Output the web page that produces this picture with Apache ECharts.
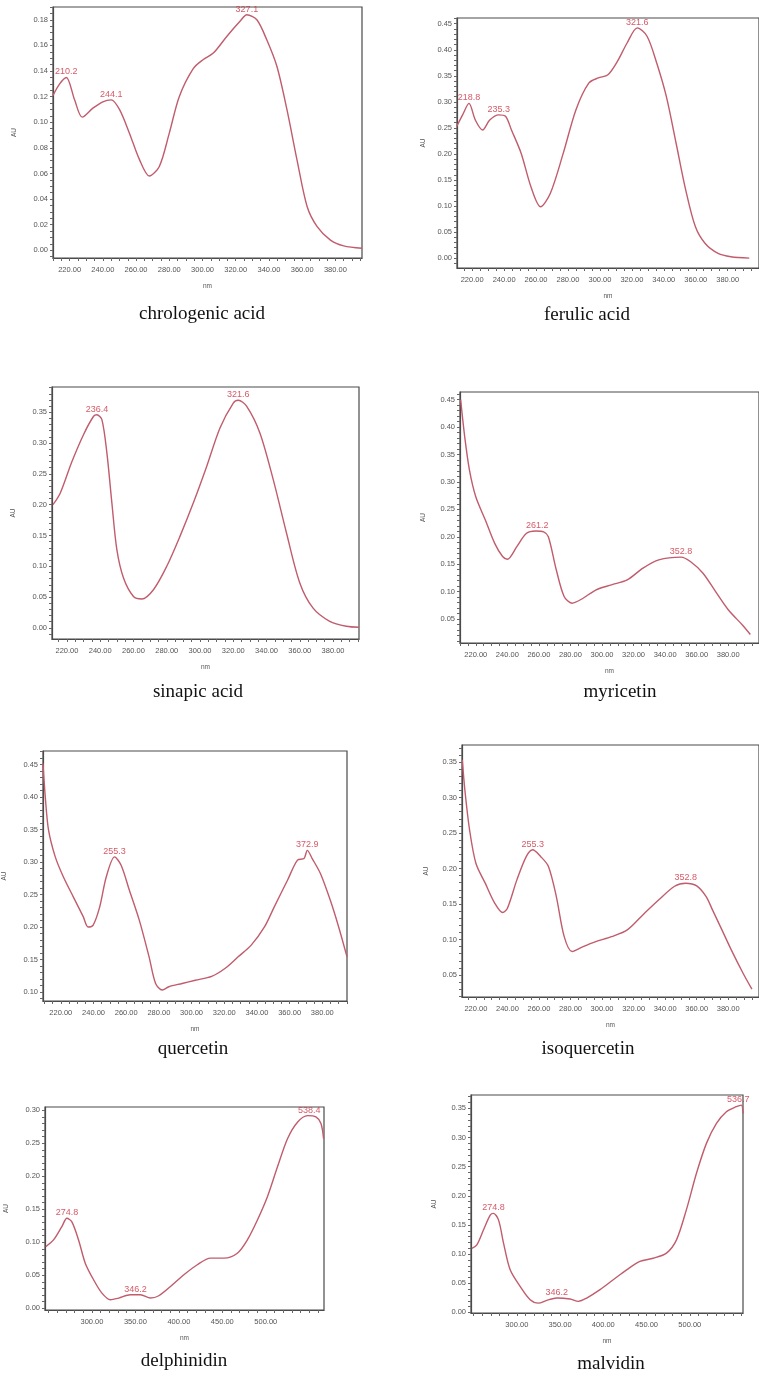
<!DOCTYPE html>
<html>
<head>
<meta charset="utf-8">
<script src="https://cdn.jsdelivr.net/npm/echarts@6/dist/echarts.min.js"></script>
<style>
html,body{margin:0;padding:0;background:#fff;}
#chart{width:759px;height:1377px;}
</style>
</head>
<body>
<div id="chart"></div>
<script>
// ---------- tick labels ----------
const xTicksUV = [220, 240, 260, 280, 300, 320, 340, 360, 380];
const xTicksVis = [300, 350, 400, 450, 500];
const yTicks_chlorogenic = [0.00, 0.02, 0.04, 0.06, 0.08, 0.10, 0.12, 0.14, 0.16, 0.18];
const yTicks_ferulic = [0.00, 0.05, 0.10, 0.15, 0.20, 0.25, 0.30, 0.35, 0.40, 0.45];
const yTicks_sinapic = [0.00, 0.05, 0.10, 0.15, 0.20, 0.25, 0.30, 0.35];
const yTicks_myricetin = [0.05, 0.10, 0.15, 0.20, 0.25, 0.30, 0.35, 0.40, 0.45];
const yTicks_quercetin = [0.10, 0.15, 0.20, 0.25, 0.30, 0.35, 0.40, 0.45];
const yTicks_isoquercetin = [0.05, 0.10, 0.15, 0.20, 0.25, 0.30, 0.35];
const yTicks_delphinidin = [0.00, 0.05, 0.10, 0.15, 0.20, 0.25, 0.30];
const yTicks_malvidin = [0.00, 0.05, 0.10, 0.15, 0.20, 0.25, 0.30, 0.35];

// ---------- spectra (wavelength nm, absorbance AU) ----------
const nm_chlorogenic = [210, 214, 218, 223, 227.6, 234, 240, 245, 250, 256, 262, 268, 274, 280, 286, 294.5, 300.5, 306.5, 314.6, 322.7, 326.7, 332.7, 338.8, 344.8, 350.8, 356.9, 363, 369, 377, 385, 396];
const au_chlorogenic = [0.121, 0.130, 0.135, 0.1175, 0.104, 0.111, 0.116, 0.1175, 0.110, 0.0915, 0.071, 0.058, 0.0655, 0.0915, 0.120, 0.142, 0.149, 0.154, 0.167, 0.179, 0.184, 0.180, 0.164, 0.1435, 0.110, 0.0705, 0.034, 0.0185, 0.008, 0.0035, 0.0016];
const peaks_chlorogenic = [[218, 0.135, '210.2'], [245, 0.1175, '244.1'], [326.7, 0.184, '327.1']];

const nm_ferulic = [210.3, 214, 218, 222, 226.5, 231, 236.6, 241, 244.6, 250.7, 256.8, 262.8, 268.9, 277, 285, 293, 299, 305, 311, 317, 323.4, 329.5, 335.6, 341.6, 347.7, 353.7, 359.8, 365.9, 374, 382, 393.5];
const au_ferulic = [0.2526, 0.275, 0.297, 0.265, 0.246, 0.265, 0.275, 0.272, 0.246, 0.201, 0.137, 0.0987, 0.124, 0.201, 0.285, 0.336, 0.346, 0.352, 0.378, 0.413, 0.442, 0.426, 0.374, 0.310, 0.2205, 0.131, 0.060, 0.028, 0.009, 0.0026, 0.0];
const peaks_ferulic = [[218, 0.297, '218.8'], [236.6, 0.275, '235.3'], [323.4, 0.442, '321.6']];

const nm_sinapic = [211.6, 216, 223, 230, 236, 238, 241, 244, 247, 250, 254, 260, 265, 272, 280, 288, 296, 304, 312, 320, 323, 328, 336, 344, 352, 360, 368, 378, 388, 395.6];
const au_sinapic = [0.200, 0.219, 0.270, 0.314, 0.3435, 0.346, 0.338, 0.284, 0.203, 0.127, 0.081, 0.051, 0.047, 0.062, 0.100, 0.149, 0.203, 0.262, 0.3245, 0.365, 0.3695, 0.360, 0.3165, 0.241, 0.154, 0.073, 0.032, 0.0107, 0.0026, 0.001];
const peaks_sinapic = [[238, 0.346, '236.4'], [323, 0.3695, '321.6']];

const nm_myricetin = [210.4, 213, 216, 220, 226, 232, 237, 240, 246, 252, 258, 263, 266, 271, 276, 281, 288, 296, 306, 316, 326, 336, 350, 356, 364, 372, 380, 389.4, 394];
const au_myricetin = [0.45, 0.382, 0.3215, 0.273, 0.231, 0.188, 0.164, 0.159, 0.182, 0.206, 0.2106, 0.209, 0.200, 0.140, 0.0912, 0.079, 0.088, 0.103, 0.1124, 0.1215, 0.143, 0.158, 0.163, 0.155, 0.1336, 0.100, 0.067, 0.038, 0.022];
const peaks_myricetin = [[259, 0.2106, '261.2'], [350, 0.163, '352.8']];

const nm_quercetin = [209.1, 210.5, 212.5, 216.6, 221.6, 227.7, 233.7, 236.7, 239.8, 243.8, 247.8, 252.9, 256.9, 261.9, 268, 274, 278, 282.1, 286.1, 294.2, 302.3, 312.3, 320.4, 328.5, 336.5, 344.6, 350.6, 358.7, 364.8, 368.8, 370.8, 373.8, 378.9, 384.9, 390, 395.1];
const au_quercetin = [0.4515, 0.400, 0.349, 0.308, 0.277, 0.246, 0.216, 0.200, 0.203, 0.231, 0.277, 0.308, 0.295, 0.257, 0.2105, 0.154, 0.113, 0.103, 0.108, 0.113, 0.118, 0.124, 0.136, 0.154, 0.172, 0.200, 0.231, 0.272, 0.303, 0.3054, 0.318, 0.3054, 0.282, 0.241, 0.200, 0.154];
const peaks_quercetin = [[252.9, 0.308, '255.3'], [370.8, 0.318, '372.9']];

const nm_isoquercetin = [211.4, 213, 216, 220, 226, 232, 237, 240, 246, 252, 256, 261, 266, 271, 276, 281, 288, 296, 306, 316, 326, 336, 346, 353, 360, 366, 370, 376, 382, 389.4, 395];
const au_isoquercetin = [0.353, 0.311, 0.2545, 0.2075, 0.179, 0.151, 0.138, 0.144, 0.184, 0.217, 0.2264, 0.217, 0.203, 0.1605, 0.104, 0.083, 0.090, 0.097, 0.104, 0.1135, 0.135, 0.156, 0.175, 0.1793, 0.1756, 0.1605, 0.1417, 0.1135, 0.085, 0.0524, 0.030];
const peaks_isoquercetin = [[256, 0.2264, '255.3'], [353, 0.1793, '352.8']];

const nm_delphinidin = [246.9, 255.8, 265.4, 271.2, 276.9, 284.6, 292.3, 301.9, 311.5, 321.2, 330.8, 344.2, 355.8, 367.3, 376.9, 390.4, 405.8, 421.2, 436.5, 451.9, 467.3, 478.8, 490.4, 501.9, 513.5, 525, 536.5, 548.1, 557.7, 563.5, 566.5];
const au_delphinidin = [0.0935, 0.1036, 0.1238, 0.1364, 0.131, 0.1036, 0.0684, 0.0432, 0.023, 0.013, 0.0155, 0.0205, 0.0205, 0.0155, 0.019, 0.033, 0.0508, 0.066, 0.076, 0.076, 0.0835, 0.1036, 0.1338, 0.169, 0.2144, 0.257, 0.282, 0.292, 0.290, 0.280, 0.257];
const peaks_delphinidin = [[271.2, 0.1364, '274.8'], [350, 0.0205, '346.2'], [550, 0.292, '538.4']];

const nm_malvidin = [248, 253.8, 261.5, 269.2, 273, 278.8, 284.6, 292.3, 303.8, 315.4, 325, 334.6, 346.2, 361.5, 371.2, 380.8, 396.2, 411.5, 426.9, 442.3, 457.7, 473, 484.6, 496, 507.7, 519.2, 530.8, 542.3, 553.8, 559.6, 561.5];
const au_malvidin = [0.110, 0.116, 0.1417, 0.167, 0.170, 0.1588, 0.119, 0.073, 0.0446, 0.0218, 0.016, 0.0207, 0.0247, 0.023, 0.019, 0.0247, 0.039, 0.056, 0.073, 0.0874, 0.093, 0.1017, 0.1245, 0.176, 0.2387, 0.290, 0.3243, 0.3443, 0.3529, 0.3557, 0.3414];
const peaks_malvidin = [[273, 0.170, '274.8'], [346.2, 0.0247, '346.2'], [556, 0.355, '536.7']];

// ---------- layout ----------
const panels = [
  {title: 'chrologenic acid', nm: nm_chlorogenic, au: au_chlorogenic, peaks: peaks_chlorogenic, xTicks: xTicksUV, yTicks: yTicks_chlorogenic,
   x: [210, 396], y: [-0.006, 0.19], box: [53, 7, 309, 251], xMinor: 5, yMinor: 0.005, t: [202, 314], nameGapY: 35},
  {title: 'ferulic acid', nm: nm_ferulic, au: au_ferulic, peaks: peaks_ferulic, xTicks: xTicksUV, yTicks: yTicks_ferulic,
   x: [210.5, 399.6], y: [-0.019, 0.461], box: [457, 18, 312, 250], xMinor: 5, yMinor: 0.01, t: [587, 315], nameGapY: 30},
  {title: 'sinapic acid', nm: nm_sinapic, au: au_sinapic, peaks: peaks_sinapic, xTicks: xTicksUV, yTicks: yTicks_sinapic,
   x: [211, 395.6], y: [-0.018, 0.391], box: [52, 387, 307, 252], xMinor: 5, yMinor: 0.01, t: [198, 692], nameGapY: 35},
  {title: 'myricetin', nm: nm_myricetin, au: au_myricetin, peaks: peaks_myricetin, xTicks: xTicksUV, yTicks: yTicks_myricetin,
   x: [210, 399.5], y: [0.0064, 0.464], box: [460, 392, 316, 251], xMinor: 5, yMinor: 0.01, t: [620, 692], nameGapY: 33},
  {title: 'quercetin', nm: nm_quercetin, au: au_quercetin, peaks: peaks_quercetin, xTicks: xTicksUV, yTicks: yTicks_quercetin,
   x: [209.1, 395.1], y: [0.086, 0.471], box: [39, 751, 308, 250], xMinor: 5, yMinor: 0.01, t: [193, 1049], nameGapY: 35},
  {title: 'isoquercetin', nm: nm_isoquercetin, au: au_isoquercetin, peaks: peaks_isoquercetin, xTicks: xTicksUV, yTicks: yTicks_isoquercetin,
   x: [211.2, 399.5], y: [0.019, 0.374], box: [462, 745, 314, 252], xMinor: 5, yMinor: 0.01, t: [588, 1049], nameGapY: 32},
  {title: 'delphinidin', nm: nm_delphinidin, au: au_delphinidin, peaks: peaks_delphinidin, xTicks: xTicksVis, yTicks: yTicks_delphinidin,
   x: [246, 567], y: [-0.0026, 0.305], box: [45, 1107, 279, 203], xMinor: 10, yMinor: 0.01, t: [184, 1361], nameGapY: 35},
  {title: 'malvidin', nm: nm_malvidin, au: au_malvidin, peaks: peaks_malvidin, xTicks: xTicksVis, yTicks: yTicks_malvidin,
   x: [247, 561.5], y: [-0.001, 0.373], box: [471, 1095, 272, 218], xMinor: 10, yMinor: 0.01, t: [611, 1364], nameGapY: 33}
];

function steps(a, b, s) {
  const out = [];
  const start = Math.ceil(a / s - 1e-9);
  const end = Math.floor(b / s + 1e-9);
  for (let k = start; k <= end; k++) out.push(+(k * s).toFixed(4));
  return out;
}

const LINE = '#c05c6c';
const RED = '#cc3040';
const AXIS = '#4a4a4a';

const grids = [], xAxes = [], yAxes = [], series = [], graphics = [];
panels.forEach((p, i) => {
  grids.push({left: p.box[0], top: p.box[1], width: p.box[2], height: p.box[3], show: true,
    borderColor: AXIS, borderWidth: 1.2, backgroundColor: '#fff', containLabel: false});
  xAxes.push({type: 'value', gridIndex: i, min: p.x[0], max: p.x[1],
    axisLine: {show: true, onZero: false, lineStyle: {color: AXIS, width: 1.2}},
    axisTick: {show: true, customValues: steps(p.x[0], p.x[1], p.xMinor), length: 3, lineStyle: {color: '#666'}},
    axisLabel: {customValues: p.xTicks, formatter: v => v.toFixed(2), fontSize: 7.5, color: '#555', margin: 8, fontFamily: 'Liberation Sans'},
    splitLine: {show: false},
    name: 'nm', nameLocation: 'middle', nameGap: 25, nameTextStyle: {fontSize: 6.5, color: '#555', fontFamily: 'Liberation Sans'}});
  yAxes.push({type: 'value', gridIndex: i, min: p.y[0], max: p.y[1],
    axisLine: {show: true, onZero: false, lineStyle: {color: AXIS, width: 1.2}},
    axisTick: {show: true, customValues: steps(p.y[0], p.y[1], p.yMinor), length: 3, lineStyle: {color: '#666'}},
    axisLabel: {customValues: p.yTicks, formatter: v => v.toFixed(2), fontSize: 7.5, color: '#555', margin: 5, fontFamily: 'Liberation Sans'},
    splitLine: {show: false},
    name: 'AU', nameLocation: 'middle', nameRotate: 90, nameGap: p.nameGapY, nameTextStyle: {fontSize: 6.5, color: '#555', fontFamily: 'Liberation Sans'}});
  series.push({type: 'line', xAxisIndex: i, yAxisIndex: i, data: p.nm.map((w, k) => [w, p.au[k]]),
    showSymbol: false, smooth: 0.3, lineStyle: {color: LINE, width: 1.4}, silent: true, z: 3});
  series.push({type: 'scatter', xAxisIndex: i, yAxisIndex: i, data: p.peaks, symbolSize: 0.1, silent: true, z: 4,
    itemStyle: {color: 'transparent'},
    label: {show: true, position: 'top', distance: 1, formatter: q => q.data[2], color: RED, fontSize: 9, fontFamily: 'Liberation Sans'}});
  graphics.push({type: 'text', x: p.t[0], y: p.t[1],
    style: {text: p.title, fontSize: 19, fontFamily: 'Liberation Serif', fill: '#111', textAlign: 'center', textVerticalAlign: 'middle'}});
});

const chart = echarts.init(document.getElementById('chart'), null, {renderer: 'canvas'});
chart.setOption({
  animation: false,
  backgroundColor: '#fff',
  grid: grids, xAxis: xAxes, yAxis: yAxes, series: series,
  graphic: graphics
});
</script>
</body>
</html>
